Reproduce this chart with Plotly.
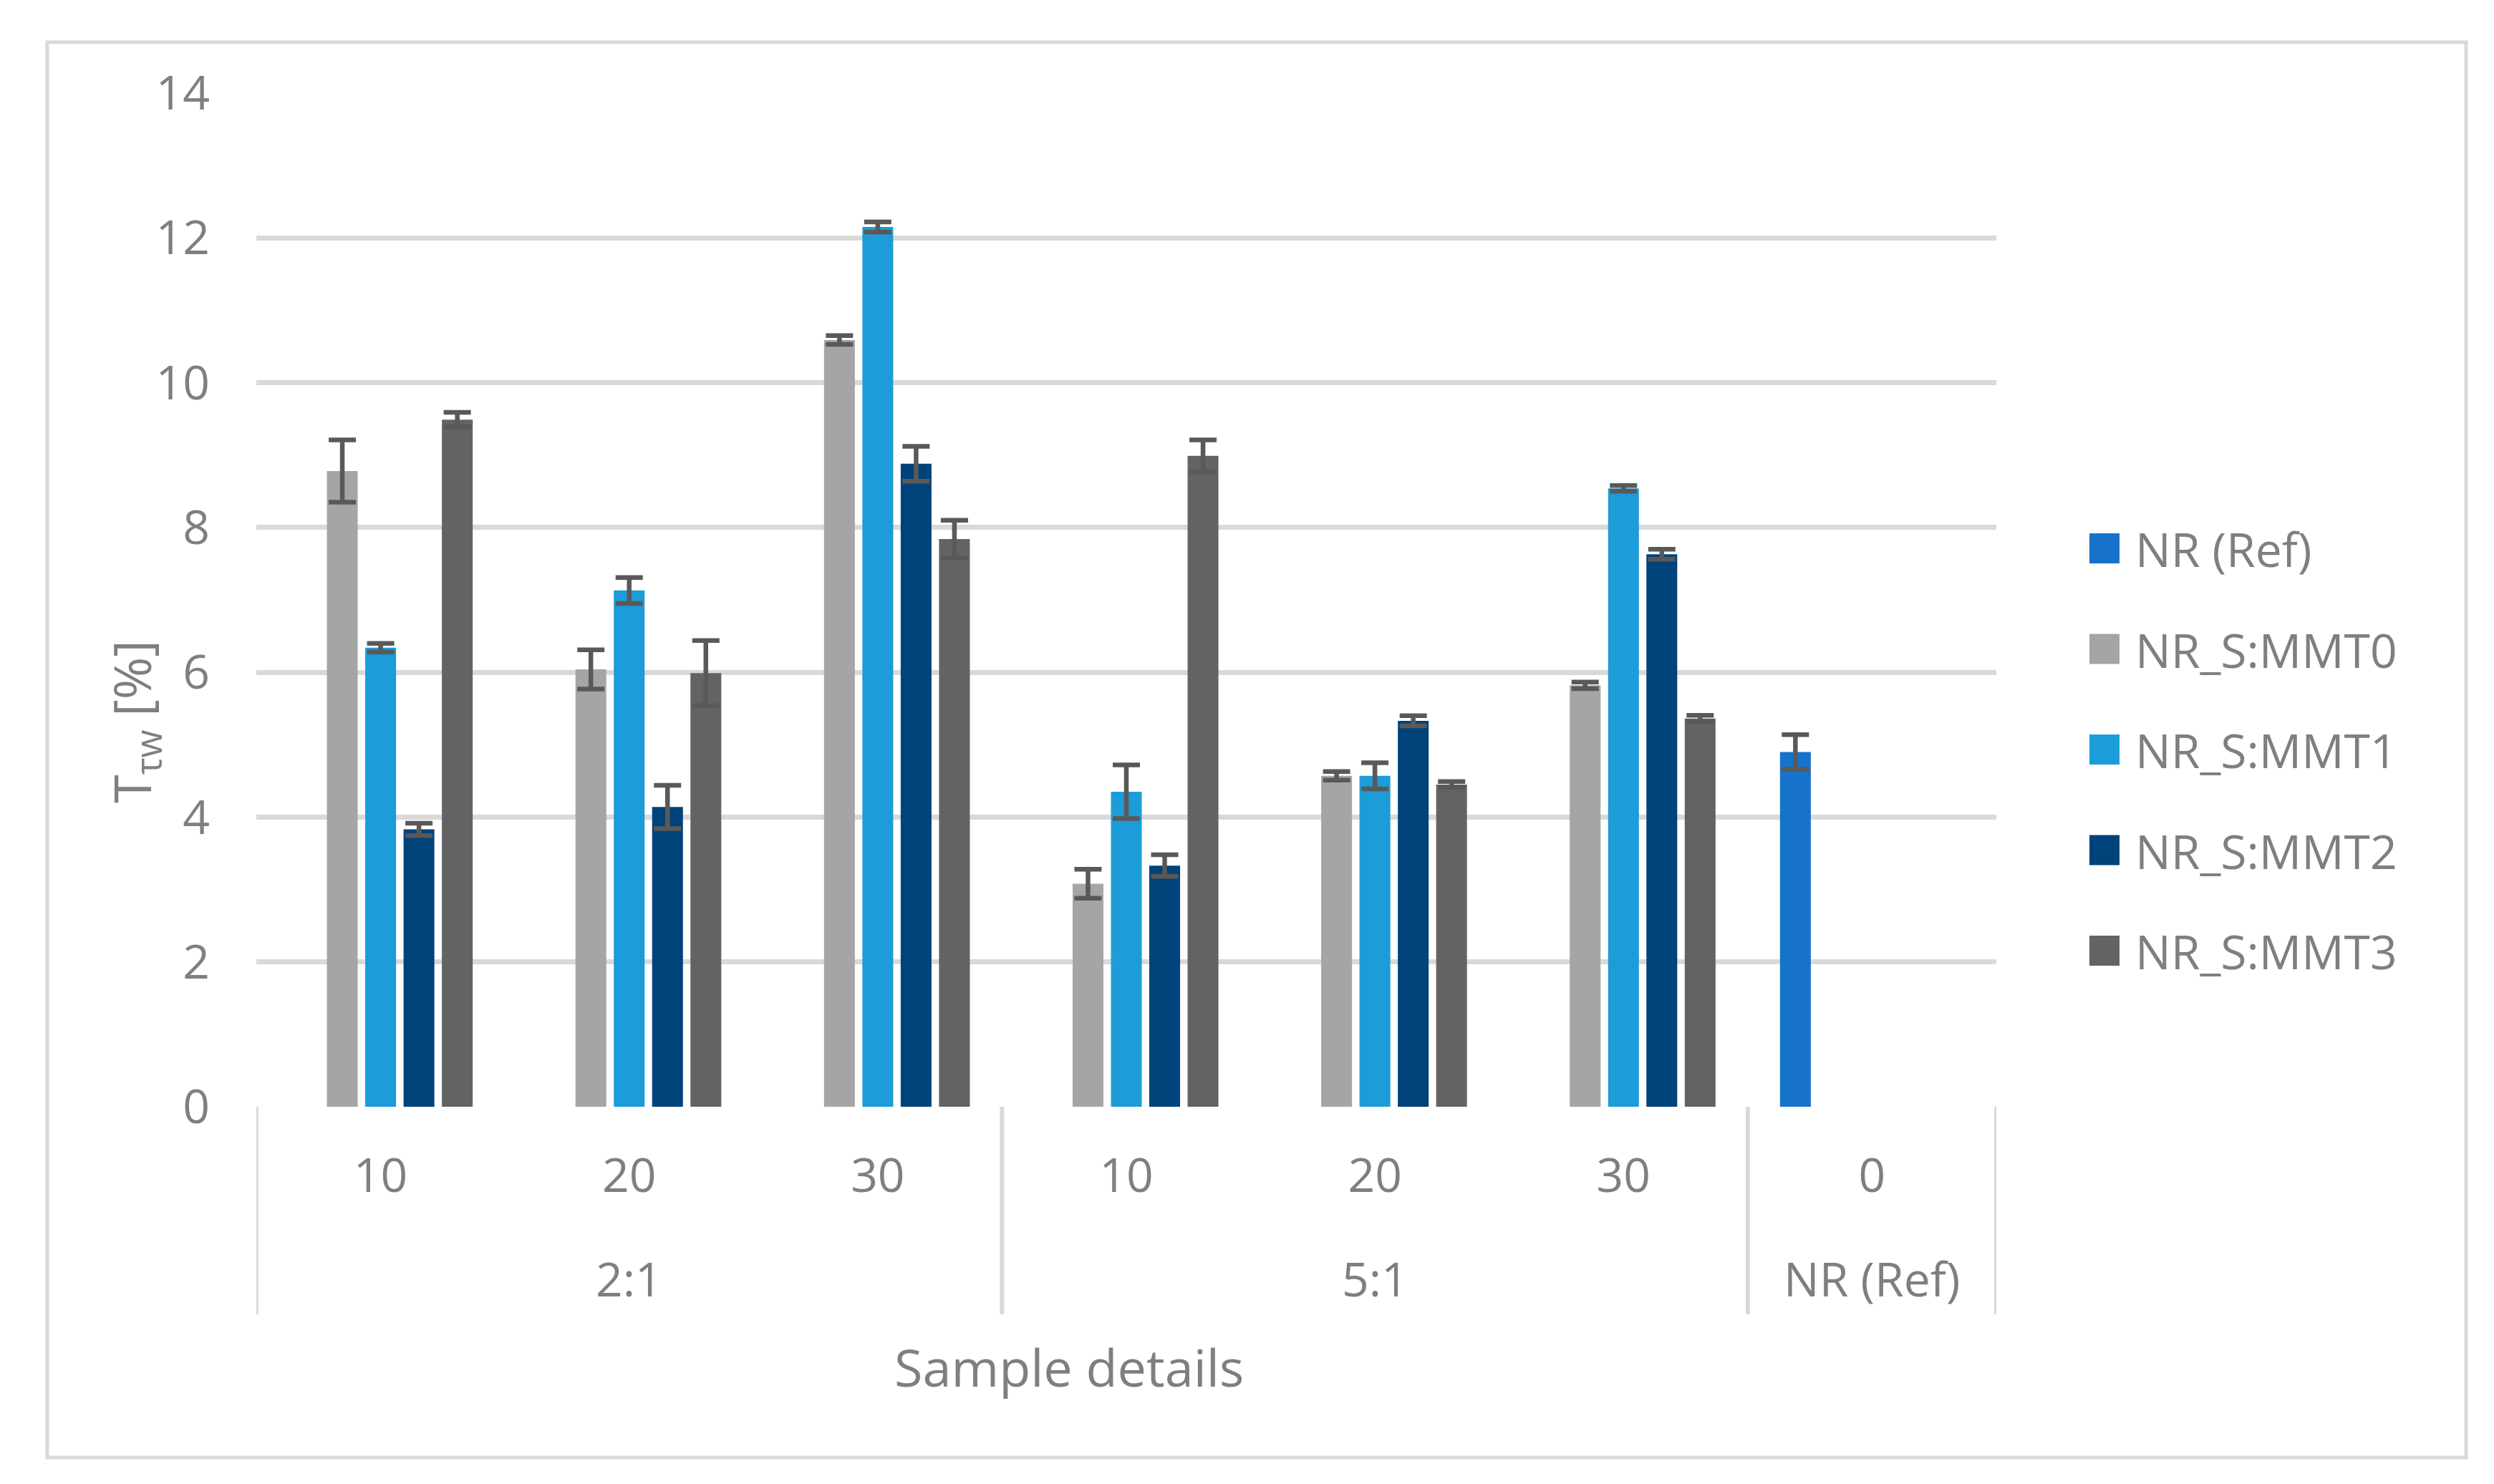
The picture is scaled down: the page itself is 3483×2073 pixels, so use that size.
import plotly.graph_objects as go

# ---------------- data ----------------
inner_labels = ["10", "20", "30", "10", "20", "30", "0"]
outer_labels = ["2:1", "2:1", "2:1", "5:1", "5:1", "5:1", "NR (Ref)"]
groups = ["2:1", "5:1", "NR (Ref)"]

series_names = ["NR (Ref)", "NR_S:MMT0", "NR_S:MMT1", "NR_S:MMT2", "NR_S:MMT3"]
series_colors = ["#1772C9", "#A5A5A5", "#1C9CD8", "#00427A", "#636363"]

nr_ref = [None, None, None, None, None, None, 4.90]
mmt0 = [8.78, 6.04, 10.59, 3.08, 4.57, 5.82, None]
mmt1 = [6.34, 7.13, 12.15, 4.35, 4.57, 8.54, None]
mmt2 = [3.83, 4.14, 8.88, 3.33, 5.33, 7.63, None]
mmt3 = [9.49, 5.99, 7.84, 8.99, 4.45, 5.36, None]

nr_ref_err = [0, 0, 0, 0, 0, 0, 0.24]
mmt0_err = [0.43, 0.27, 0.06, 0.20, 0.06, 0.045, 0]
mmt1_err = [0.06, 0.18, 0.07, 0.37, 0.18, 0.04, 0]
mmt2_err = [0.085, 0.30, 0.24, 0.15, 0.07, 0.07, 0]
mmt3_err = [0.10, 0.45, 0.26, 0.22, 0.04, 0.045, 0]

y_ticks = [0, 2, 4, 6, 8, 10, 12, 14]
y_title = "T<sub>τw</sub> [%]"
x_title = "Sample details"

values = [nr_ref, mmt0, mmt1, mmt2, mmt3]
errors = [nr_ref_err, mmt0_err, mmt1_err, mmt2_err, mmt3_err]

# ---------------- style ----------------
W, H = 3483, 2073
ML, MR, MT, MB = 350, 703, 122, 535
FONT = "Open Sans"
TXT = "#7F7F7F"
GRID = "#D9D9D9"
plot_w = W - ML - MR
plot_h = H - MT - MB
base = H - MB  # pixel row of y = 0


def px_x(px):
    return (px - ML) / plot_w


def px_y(py):
    return (base - py) / plot_h


x_pos = list(range(len(inner_labels)))

fig = go.Figure()
for name, col, vals, errs in zip(series_names, series_colors, values, errors):
    fig.add_trace(go.Bar(
        name=name,
        x=x_pos,
        y=vals,
        marker=dict(color=col, line=dict(width=0)),
        error_y=dict(type="data", array=errs, visible=True,
                     color="#595959", thickness=6.5, width=19),
        showlegend=False,
    ))

# divider lines between outer groups (at category boundaries)
bounds = [-0.5]
for i in range(1, len(outer_labels)):
    if outer_labels[i] != outer_labels[i - 1]:
        bounds.append(i - 0.5)
bounds.append(len(outer_labels) - 0.5)
for b in bounds:
    fig.add_shape(type="line", xref="x", yref="paper", x0=b, x1=b,
                  y0=0, y1=px_y(1828), line=dict(color=GRID, width=6))

# outer category labels
for g in groups:
    idx = [i for i, o in enumerate(outer_labels) if o == g]
    fig.add_annotation(x=sum(idx) / len(idx), y=px_y(1777), xref="x", yref="paper",
                       text=g, showarrow=False, yanchor="middle",
                       font=dict(family=FONT, size=66, color=TXT))

# axis titles
fig.add_annotation(x=px_x(1485), y=px_y(1901),
                   xref="paper", yref="paper", text=x_title, showarrow=False,
                   yanchor="middle", xanchor="center",
                   font=dict(family=FONT, size=72, color=TXT))
fig.add_annotation(x=px_x(179), y=px_y(1000),
                   xref="paper", yref="paper", text=y_title, showarrow=False,
                   textangle=-90, yanchor="middle", xanchor="center",
                   font=dict(family=FONT, size=72, color=TXT))

# legend (square swatches + labels)
for i, (name, col) in enumerate(zip(series_names, series_colors)):
    cy = 758 + 140.5 * i
    fig.add_shape(type="rect", xref="paper", yref="paper",
                  x0=px_x(2910), x1=px_x(2952),
                  y0=px_y(cy + 21), y1=px_y(cy - 21),
                  line=dict(width=0), fillcolor=col)
    fig.add_annotation(x=px_x(2972), y=px_y(cy), xref="paper", yref="paper",
                       text=name, showarrow=False, xanchor="left", yanchor="middle",
                       font=dict(family=FONT, size=66, color=TXT))

# outer chart border
fig.add_shape(type="rect", xref="paper", yref="paper",
              x0=px_x(58), x1=px_x(3436), y0=px_y(2028), y1=px_y(51),
              line=dict(color=GRID, width=5), fillcolor="rgba(0,0,0,0)")

fig.update_layout(
    width=W, height=H,
    margin=dict(l=ML, r=MR, t=MT, b=MB, pad=0),
    paper_bgcolor="white", plot_bgcolor="white",
    barmode="group", bargap=0.229, bargroupgap=0.196,
    font=dict(family=FONT, size=66, color=TXT),
    showlegend=False,
)
fig.update_xaxes(
    tickmode="array", tickvals=x_pos, ticktext=inner_labels,
    range=[-0.5, len(inner_labels) - 0.5],
    showgrid=False, zeroline=False, showline=False, ticks="",
    ticklabelstandoff=52,
    tickfont=dict(family=FONT, size=66, color=TXT),
)
fig.update_yaxes(
    range=[0, 14], tickmode="array", tickvals=y_ticks,
    showgrid=True, gridcolor=GRID, gridwidth=7,
    zeroline=False, showline=False, ticks="",
    ticklabelstandoff=64,
    tickfont=dict(family=FONT, size=66, color=TXT),
)

fig.write_html("out.html")
